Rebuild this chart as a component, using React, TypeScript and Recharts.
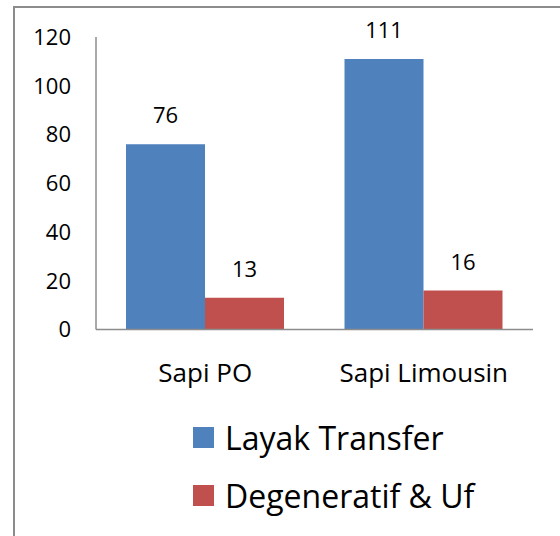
import React from 'react';
import { BarChart, Bar, XAxis, YAxis, Legend, LabelList } from 'recharts';

const categories = ['Sapi PO', 'Sapi Limousin'];
const seriesNames = ['Layak Transfer', 'Degeneratif & Uf'];
const layakTransfer = [76, 111];
const degeneratifUf = [13, 16];
const yTicks = [0, 20, 40, 60, 80, 100, 120];

const data = categories.map((name, i) => ({
  name,
  layak: layakTransfer[i],
  degeneratif: degeneratifUf[i],
}));

const font = '"Open Sans", sans-serif';

const renderLegend = (props: any) => {
  const items = [...(props.payload || [])].sort(
    (a: any, b: any) => seriesNames.indexOf(a.value) - seriesNames.indexOf(b.value)
  );
  return (
    <div style={{ fontFamily: font }}>
      {items.map((entry: any) => (
        <div key={entry.value} style={{ display: 'flex', alignItems: 'center', height: 58 }}>
          <span style={{ width: 21, height: 21, background: entry.color, marginRight: 11, display: 'inline-block' }} />
          <span style={{ fontSize: 32, color: '#000' }}>{entry.value}</span>
        </div>
      ))}
    </div>
  );
};

export default function App() {
  return (
    <div
      style={{
        position: 'fixed',
        left: 13,
        top: 6,
        width: 560,
        height: 540,
        borderLeft: '2px solid #8c8c8c',
        borderTop: '2px solid #8c8c8c',
        background: '#fff',
      }}
    >
      <BarChart
        width={546}
        height={528}
        data={data}
        margin={{ top: 29, right: 28, left: 0, bottom: 146.5 }}
        barCategoryGap={30}
        barGap={0}
      >
        <XAxis
          dataKey="name"
          height={60}
          axisLine={{ stroke: '#8c8c8c', strokeWidth: 1.5 }}
          tickLine={false}
          tickSize={0}
          tickMargin={34}
          tick={{ fill: '#000', fontSize: 26, fontFamily: font }}
        />
        <YAxis
          width={81}
          domain={[0, 120]}
          ticks={yTicks}
          interval={0}
          axisLine={{ stroke: '#8c8c8c', strokeWidth: 1.5 }}
          tickLine={false}
          tickSize={0}
          tickMargin={25}
          tick={{ fill: '#000', fontSize: 22, fontFamily: font }}
        />
        <Legend
          layout="vertical"
          align="center"
          verticalAlign="middle"
          content={renderLegend}
          wrapperStyle={{ left: 178, top: 400, bottom: 'auto', width: 'auto' }}
        />
        <Bar dataKey="layak" name={seriesNames[0]} fill="#4F81BD" isAnimationActive={false}>
          <LabelList dataKey="layak" position="top" offset={21} fill="#000" fontSize={22} fontFamily={font} />
        </Bar>
        <Bar dataKey="degeneratif" name={seriesNames[1]} fill="#C0504D" isAnimationActive={false}>
          <LabelList dataKey="degeneratif" position="top" offset={21} fill="#000" fontSize={22} fontFamily={font} />
        </Bar>
      </BarChart>
    </div>
  );
}
